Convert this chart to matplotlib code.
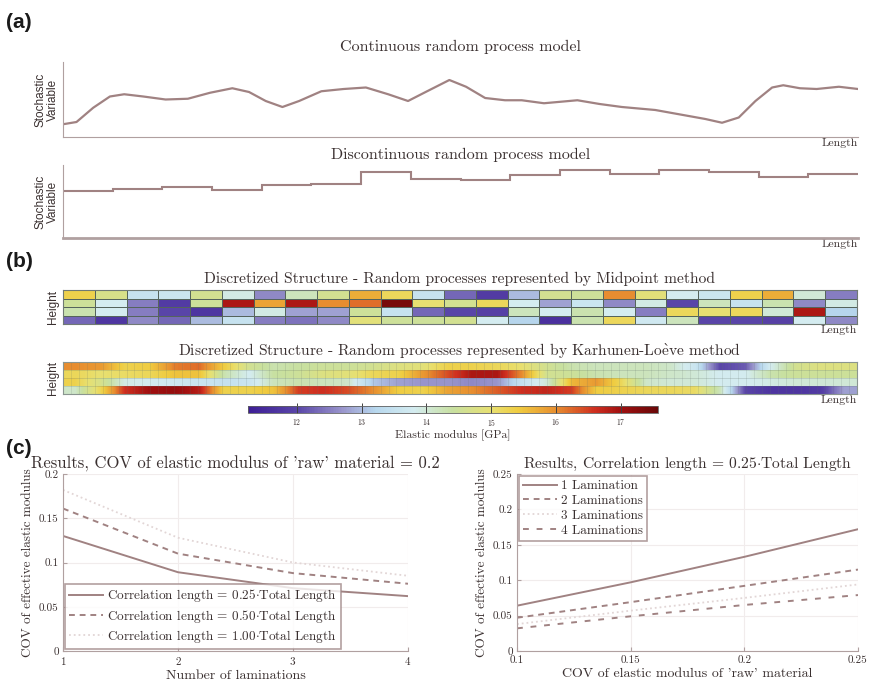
import matplotlib
matplotlib.use("Agg")
import matplotlib.pyplot as plt
import numpy as np
from matplotlib.colors import LinearSegmentedColormap, Normalize

plt.rcParams['font.family'] = ['cmr10', 'DejaVu Serif']
plt.rcParams['axes.formatter.use_mathtext'] = True
plt.rcParams['mathtext.fontset'] = 'cm'

# (a) continuous random process (Length normalised 0..1)
cont_x = [0.000, 0.017, 0.038, 0.059, 0.077, 0.101, 0.129, 0.157, 0.185, 0.213,
          0.234, 0.255, 0.276, 0.297, 0.325, 0.353, 0.381, 0.409, 0.434, 0.458,
          0.486, 0.507, 0.531, 0.556, 0.577, 0.605, 0.647, 0.675, 0.703, 0.745,
          0.787, 0.808, 0.829, 0.850, 0.871, 0.892, 0.906, 0.927, 0.948, 0.976, 1.000]
cont_y = [0.17, 0.20, 0.39, 0.54, 0.57, 0.54, 0.50, 0.51, 0.59, 0.65,
          0.60, 0.48, 0.40, 0.48, 0.61, 0.64, 0.66, 0.57, 0.48, 0.61,
          0.76, 0.67, 0.52, 0.49, 0.49, 0.45, 0.49, 0.44, 0.40, 0.36,
          0.28, 0.24, 0.19, 0.26, 0.48, 0.66, 0.69, 0.65, 0.64, 0.67, 0.64]

# (a) discontinuous random process, 16 segments
disc_vals = [0.65, 0.67, 0.70, 0.66, 0.72, 0.74, 0.91, 0.81,
             0.80, 0.86, 0.93, 0.87, 0.93, 0.90, 0.83, 0.87]

# (b) midpoint method, elastic modulus [GPa], 4 rows (top->bottom) x 25 elements
mid_vals = np.array([
    [15.3, 14.7, 13.5, 13.6, 14.6, 13.9, 12.6, 14.2, 14.6, 15.7, 15.2, 13.5, 12.3,
     11.8, 13.0, 14.6, 14.5, 16.0, 14.9, 13.8, 13.6, 15.3, 15.7, 14.0, 12.5],
    [14.5, 13.8, 12.5, 11.8, 14.5, 16.9, 15.8, 16.9, 16.0, 16.2, 17.4, 15.0, 14.6,
     15.2, 13.8, 12.8, 13.6, 12.6, 13.9, 12.0, 14.2, 13.5, 14.3, 12.6, 13.9],
    [14.3, 13.8, 12.5, 12.0, 11.7, 13.0, 13.9, 12.8, 12.8, 14.5, 13.5, 12.3, 12.0,
     11.9, 14.2, 13.8, 14.3, 13.8, 12.5, 15.2, 15.0, 15.2, 14.0, 16.9, 13.2],
    [12.3, 11.7, 12.6, 12.3, 13.0, 13.5, 12.5, 12.4, 12.6, 14.9, 14.5, 14.5, 14.6,
     13.8, 13.2, 11.6, 14.3, 15.2, 13.7, 14.2, 12.0, 12.0, 11.9, 13.8, 12.6],
])

# (b) Karhunen-Loeve method, 4 rows (top->bottom), sampled along the length
kl_vals = np.array([
    [16.0, 15.9, 15.3, 15.4, 16.1, 16.2, 15.4, 14.6, 14.3, 14.4, 14.5, 14.5, 14.6, 14.8, 14.9, 15.3,
     15.3, 15.2, 15.0, 14.6, 14.3, 14.2, 14.2, 14.2, 14.1, 13.6, 12.0, 12.2, 13.8, 14.6, 14.8, 14.8],
    [15.2, 15.0, 15.1, 15.2, 15.5, 15.5, 14.3, 13.8, 14.4, 14.5, 14.8, 14.9, 15.2, 15.3, 15.9, 16.4,
     16.9, 16.9, 16.0, 14.6, 14.5, 14.3, 14.2, 14.2, 14.1, 14.0, 13.8, 13.8, 14.3, 14.5, 14.5, 14.5],
    [15.3, 14.7, 13.9, 13.8, 13.7, 13.6, 13.5, 13.6, 14.2, 14.3, 14.2, 14.1, 13.1, 12.8, 12.7, 12.7,
     12.6, 12.7, 13.5, 14.0, 15.6, 15.9, 15.2, 14.1, 14.0, 14.0, 13.8, 13.8, 13.9, 14.0, 14.0, 14.0],
    [14.1, 15.2, 16.6, 17.0, 17.1, 16.8, 15.3, 15.3, 15.5, 16.5, 16.6, 16.4, 16.0, 15.4, 15.3, 15.8,
     16.0, 16.3, 16.6, 16.7, 16.5, 15.4, 15.3, 15.2, 15.2, 15.1, 14.2, 12.0, 11.7, 11.7, 11.8, 12.8],
])
n_kl_elements = 100
cbar_ticks = [12, 13, 14, 15, 16, 17]
e_min, e_max = 11.25, 17.57

# (c) left: COV of effective modulus vs number of laminations
n_lam = [1, 2, 3, 4]
cov_corr = {
    r'Correlation length = 0.25$\cdot$Total Length': [0.130, 0.089, 0.071, 0.062],
    r'Correlation length = 0.50$\cdot$Total Length': [0.161, 0.110, 0.088, 0.076],
    r'Correlation length = 1.00$\cdot$Total Length': [0.182, 0.128, 0.100, 0.085],
}
# (c) right: COV of effective modulus vs COV of raw material
cov_raw = [0.10, 0.15, 0.20, 0.25]
cov_lam = {
    '1 Lamination': [0.064, 0.097, 0.133, 0.172],
    '2 Laminations': [0.047, 0.069, 0.092, 0.115],
    '3 Laminations': [0.038, 0.057, 0.075, 0.094],
    '4 Laminations': [0.032, 0.049, 0.065, 0.079],
}

LINE = '#a08282'
FAINT = '#e2d6d6'
SPINE = '#b0a0a0'
TXT = '#3a3030'
styles = [dict(ls='-', color=LINE, lw=1.4),
          dict(ls=(0, (3, 2.5)), color=LINE, lw=1.4),
          dict(ls=':', color=FAINT, lw=1.3),
          dict(ls=(0, (3, 4)), color=LINE, lw=1.4)]

cmap = LinearSegmentedColormap.from_list('emod', [
    (0.00, '#3d1e96'), (0.12, '#5a46a8'), (0.23, '#9a96cc'), (0.31, '#b8d8ee'),
    (0.405, '#d4ecf0'), (0.50, '#c8e0a0'), (0.595, '#e8e070'), (0.66, '#f0cc40'),
    (0.75, '#e89030'), (0.845, '#d03020'), (0.91, '#a01010'), (1.00, '#6a0808')])
norm = Normalize(e_min, e_max)

W, H = 870, 683
fig = plt.figure(figsize=(W / 100, H / 100), dpi=100)


def rect(x0, y0, x1, y1):
    return [x0 / W, 1 - y1 / H, (x1 - x0) / W, (y1 - y0) / H]


def plain(ax):
    ax.set_xticks([])
    ax.set_yticks([])
    for s in ['top', 'right']:
        ax.spines[s].set_visible(False)
    for s in ['left', 'bottom']:
        ax.spines[s].set_color(SPINE)


def sans_ylabel(ax, text):
    ax.set_ylabel(text, family='Liberation Sans', fontsize=8.5, color=TXT,
                  linespacing=1.05, labelpad=3)


def length_label(ax, pad=1):
    ax.set_xlabel('Length', loc='right', fontsize=8.5, color=TXT, labelpad=pad)


# ---- (a) ----
ax1 = fig.add_axes(rect(63, 62, 858, 137))
ax1.plot(cont_x, cont_y, color=LINE, lw=1.6, solid_joinstyle='round')
ax1.set_xlim(0, 1)
ax1.set_ylim(0, 1)
plain(ax1)
ax1.set_title('Continuous random process model', fontsize=11.5, color=TXT, pad=8)
sans_ylabel(ax1, 'Stochastic\nVariable')
length_label(ax1)

ax2 = fig.add_axes(rect(63, 165, 858, 238))
ax2.stairs(disc_vals, np.linspace(0, 1, len(disc_vals) + 1), baseline=None,
           color=LINE, lw=1.5)
ax2.set_xlim(0, 1)
ax2.set_ylim(0, 1)
plain(ax2)
ax2.spines['bottom'].set_linewidth(2)
ax2.set_title('Discontinuous random process model', fontsize=11.5, color=TXT, pad=4)
sans_ylabel(ax2, 'Stochastic\nVariable')
length_label(ax2)

# ---- (b) ----
ax3 = fig.add_axes(rect(63, 290, 857, 324))
ax3.pcolormesh(np.arange(mid_vals.shape[1] + 1), np.arange(mid_vals.shape[0] + 1),
               mid_vals, cmap=cmap, norm=norm, edgecolors='#55645c', linewidth=0.7)
ax3.set_ylim(mid_vals.shape[0], 0)
ax3.set_xlim(0, mid_vals.shape[1])
ax3.set_xticks([])
ax3.set_yticks([])
for s in ax3.spines.values():
    s.set_color('#707a74')
ax3.set_title('Discretized Structure - Random processes represented by Midpoint method',
              fontsize=11.2, color=TXT, pad=5)
sans_ylabel(ax3, 'Height')
length_label(ax3)

ax4 = fig.add_axes(rect(63, 362, 857, 394))
# each layer smooth along the length, distinct between layers
for i in range(kl_vals.shape[0]):
    ax4.imshow(kl_vals[i:i + 1], cmap=cmap, norm=norm, aspect='auto',
               interpolation='bilinear', extent=(0, 1, i + 1, i))
ax4.vlines(np.linspace(0, 1, n_kl_elements + 1), 0, kl_vals.shape[0],
           color='#607068', lw=0.5, alpha=0.22)
ax4.hlines(np.arange(1, kl_vals.shape[0]), 0, 1, color='#607068', lw=0.5, alpha=0.3)
ax4.set_xlim(0, 1)
ax4.set_ylim(kl_vals.shape[0], 0)
ax4.set_xticks([])
ax4.set_yticks([])
for s in ax4.spines.values():
    s.set_color('#8a9590')
ax4.set_title(r'Discretized Structure - Random processes represented by Karhunen-Lo$\grave{\mathrm{e}}$ve method',
              fontsize=11.2, color=TXT, pad=5)
sans_ylabel(ax4, 'Height')
length_label(ax4)

cax = fig.add_axes(rect(248, 406, 658, 413))
cb = fig.colorbar(plt.cm.ScalarMappable(norm=norm, cmap=cmap), cax=cax,
                  orientation='horizontal', ticks=cbar_ticks)
cb.outline.set_edgecolor('#606060')
cb.outline.set_linewidth(0.6)
cax.tick_params(direction='in', length=7, width=0.7, color='#404040',
                labelsize=5.5, labelcolor=TXT, pad=3)
cb.set_label('Elastic modulus [GPa]', fontsize=8.5, color=TXT, labelpad=1)

# ---- (c) ----
def style_result_ax(ax):
    for s in ['top', 'right']:
        ax.spines[s].set_visible(False)
    for s in ['left', 'bottom']:
        ax.spines[s].set_color(SPINE)
    ax.tick_params(direction='in', length=3, color=SPINE, labelsize=8, labelcolor=TXT, pad=3)
    ax.grid(True, color='#f1ecec', lw=0.8)
    ax.set_axisbelow(True)


ax5 = fig.add_axes(rect(63, 474, 408, 651))
for (lab, vals), st in zip(cov_corr.items(), styles[:3]):
    ax5.plot(n_lam, vals, label=lab, **st)
ax5.set_xlim(1, 4)
ax5.set_ylim(0, 0.2)
ax5.set_xticks(n_lam)
ax5.set_yticks([0, 0.05, 0.1, 0.15, 0.2])
ax5.set_yticklabels(['0', '0.05', '0.1', '0.15', '0.2'])
style_result_ax(ax5)
ax5.set_title("Results, COV of elastic modulus of 'raw' material = 0.2",
              fontsize=12, color=TXT, pad=4)
ax5.set_xlabel('Number of laminations', fontsize=10, color=TXT, labelpad=2)
ax5.set_ylabel('COV of effective elastic modulus', fontsize=9.5, color=TXT, labelpad=4)
leg5 = ax5.legend(loc='lower left', fontsize=9.5, frameon=True, fancybox=False,
                  handlelength=2.6, handletextpad=0.3, borderaxespad=0.15,
                  labelspacing=0.25, borderpad=0.3)
leg5.get_frame().set_edgecolor('#a08888')
leg5.get_frame().set_linewidth(1.2)
for t in leg5.get_texts():
    t.set_color(TXT)

ax6 = fig.add_axes(rect(517, 474, 858, 651))
for (lab, vals), st in zip(cov_lam.items(), styles):
    ax6.plot(cov_raw, vals, label=lab, **st)
ax6.set_xlim(0.1, 0.25)
ax6.set_ylim(0, 0.25)
ax6.set_xticks(cov_raw)
ax6.set_xticklabels(['0.1', '0.15', '0.2', '0.25'])
ax6.set_yticks([0, 0.05, 0.1, 0.15, 0.2, 0.25])
ax6.set_yticklabels(['0', '0.05', '0.1', '0.15', '0.2', '0.25'])
style_result_ax(ax6)
ax6.set_title(r'Results, Correlation length = 0.25$\cdot$Total Length',
              fontsize=11.2, color=TXT, pad=4)
ax6.set_xlabel("COV of elastic modulus of 'raw' material", fontsize=10, color=TXT, labelpad=2)
ax6.set_ylabel('COV of effective elastic modulus', fontsize=9.5, color=TXT, labelpad=4)
leg6 = ax6.legend(loc='upper left', fontsize=9.5, frameon=True, fancybox=False,
                  handlelength=2.6, handletextpad=0.3, borderaxespad=0.15,
                  labelspacing=0.2, borderpad=0.3)
leg6.get_frame().set_edgecolor('#a08888')
leg6.get_frame().set_linewidth(1.2)
for t in leg6.get_texts():
    t.set_color(TXT)

# panel letters
for lab, y in [('(a)', 22), ('(b)', 262), ('(c)', 448)]:
    fig.text(6 / W, 1 - y / H, lab, family='Liberation Sans', fontweight='bold',
             fontsize=15, color='#1a1a1a', va='center', ha='left')

fig.savefig('out.png', dpi=100, facecolor='white')
